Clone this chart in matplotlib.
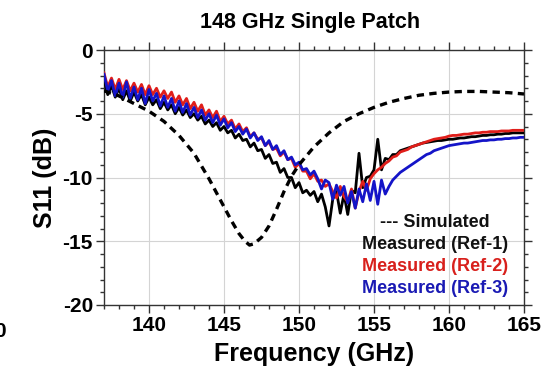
import numpy as np
import matplotlib
matplotlib.use("Agg")
import matplotlib.pyplot as plt
from matplotlib.ticker import MultipleLocator

plt.rcParams['font.family'] = ['Liberation Sans', 'DejaVu Sans']
plt.rcParams['font.weight'] = 'bold'
plt.rcParams['axes.unicode_minus'] = False

# Measurement sweep: 137 to 165 GHz in 0.25 GHz steps
f_start, f_stop, f_step = 137.0, 165.0, 0.25
freq_meas = np.arange(f_start, f_stop + f_step / 2, f_step)

s11_ref1 = [
    -2.3, -3.5, -2.8, -3.7,  -3.0, -3.9, -3.2, -4.0,  -3.3, -4.0, -3.5, -4.3,
    -3.7, -4.3, -3.9, -4.6,  -4.1, -4.7, -4.3, -5.0,  -4.5, -5.1, -4.7, -5.3,
    -5.0, -5.5, -5.2, -5.8,  -5.5, -6.0, -5.7, -6.3,  -6.0, -6.5, -6.3, -6.9,
    -6.6, -7.1, -7.0, -7.6,  -7.3, -7.9, -7.8, -8.5,  -8.2, -8.9, -8.8, -9.6,
    -9.3, -10.0, -10.0, -10.8,  -10.4, -11.2, -11.0, -11.4,  -11.1, -11.9, -11.3, -12.3,
    -13.8, -11.7, -11.1, -12.8,  -11.3, -12.9, -11.0, -11.2,  -8.1, -10.8, -10.0, -9.9,
    -9.4, -7.0, -9.4, -8.5,  -8.6, -8.2, -8.2, -7.9,  -7.8, -7.7, -7.6, -7.5,
    -7.4, -7.3, -7.25, -7.2,  -7.15, -7.1, -7.1, -7.05,  -7.0, -7.0, -6.95, -6.9,
    -6.9, -6.85, -6.8, -6.8,  -6.75, -6.7, -6.7, -6.65,  -6.65, -6.6, -6.6, -6.55,
    -6.55, -6.5, -6.5, -6.5,  -6.5,
]

s11_ref2 = [
    -1.8, -2.9, -2.2, -3.1,  -2.3, -3.1, -2.4, -3.2,  -2.6, -3.3, -2.7, -3.5,
    -2.8, -3.5, -3.0, -3.7,  -3.2, -3.8, -3.3, -4.1,  -3.6, -4.3, -3.8, -4.6,
    -4.1, -4.8, -4.3, -5.1,  -4.7, -5.3, -4.8, -5.6,  -5.2, -5.8, -5.5, -6.2,
    -5.8, -6.4, -6.1, -6.8,  -6.5, -7.0, -6.9, -7.5,  -7.2, -7.8, -7.7, -8.3,
    -8.0, -8.6, -8.5, -9.2,  -8.9, -9.5, -9.5, -10.1,  -9.7, -10.3, -10.2, -10.7,
    -10.5, -11.1, -11.6, -10.7,  -11.5, -11.9, -10.9, -12.4,  -11.1, -10.3, -11.0, -10.1,
    -9.7, -9.4, -9.2, -8.9,  -8.7, -8.4, -8.3, -8.0,  -7.9, -7.8, -7.6, -7.5,
    -7.4, -7.3, -7.2, -7.1,  -7.0, -6.95, -6.9, -6.85,  -6.75, -6.7, -6.7, -6.65,
    -6.6, -6.6, -6.55, -6.5,  -6.5, -6.45, -6.45, -6.4,  -6.4, -6.4, -6.35, -6.35,
    -6.35, -6.3, -6.3, -6.3,  -6.3,
]

s11_ref3 = [
    -1.9, -3.2, -2.4, -3.6,  -2.6, -3.7, -2.5, -3.8,  -2.9, -3.9, -3.0, -4.2,
    -3.1, -4.0, -3.4, -4.4,  -3.6, -4.5, -3.8, -4.8,  -4.0, -4.9, -4.2, -5.1,
    -4.5, -5.3, -4.7, -5.5,  -5.0, -5.7, -5.1, -5.9,  -5.4, -6.1, -5.7, -6.4,
    -6.0, -6.6, -6.2, -6.9,  -6.5, -7.1, -6.8, -7.5,  -7.1, -7.8, -7.5, -8.2,
    -7.9, -8.6, -8.4, -9.0,  -8.8, -9.4, -9.3, -9.8,  -9.5, -10.1, -10.9, -10.2,
    -10.4, -11.7, -10.6, -11.4,  -10.7, -12.0, -11.1, -12.4,  -10.9, -11.9, -10.5, -11.8,
    -10.3, -12.1, -10.2, -11.3,  -10.7, -10.2, -9.9, -9.6,  -9.4, -9.2, -9.0, -8.8,
    -8.6, -8.4, -8.2, -8.1,  -7.9, -7.8, -7.7, -7.6,  -7.5, -7.45, -7.4, -7.35,
    -7.3, -7.3, -7.25, -7.2,  -7.15, -7.1, -7.1, -7.05,  -7.05, -7.0, -7.0, -6.95,
    -6.95, -6.9, -6.9, -6.85,  -6.85,
]

# Simulated response
freq_sim = [137.0, 138.0, 139.0, 140.0, 141.0, 142.0, 143.0, 144.0, 145.0,
            145.5, 146.0, 146.4, 146.7, 147.0, 147.5, 148.0, 148.5, 149.0,
            149.5, 150.0, 151.0, 152.0, 153.0, 154.0, 155.0, 156.0, 157.0,
            158.0, 159.0, 160.0, 161.0, 162.0, 163.0, 164.0, 165.0]
s11_sim = [-3.2, -3.6, -4.2, -4.8, -5.6, -6.7, -8.1, -10.1, -12.3,
           -13.4, -14.4, -15.0, -15.3, -15.2, -14.7, -13.8, -12.5, -11.1,
           -9.9, -9.0, -7.6, -6.5, -5.6, -5.0, -4.5, -4.1, -3.8,
           -3.55, -3.4, -3.3, -3.25, -3.25, -3.3, -3.35, -3.45]

x_ticks = [140, 145, 150, 155, 160, 165]
y_ticks = [0, -5, -10, -15, -20]

legend_lines = ["--- Simulated", "Measured (Ref-1)", "Measured (Ref-2)", "Measured (Ref-3)"]
legend_colors = ["#111111", "#111111", "#d8201c", "#1a1ab4"]

W, H = 547, 378
fig = plt.figure(figsize=(W / 100, H / 100), dpi=100)
ax = fig.add_axes([104 / W, 1 - 305 / H, 420 / W, 255 / H])

ax.plot(freq_meas, s11_ref1, color="#000000", lw=2.0, zorder=3)
ax.plot(freq_meas, s11_ref2, color="#e01e1a", lw=2.0, zorder=4)
ax.plot(freq_meas, s11_ref3, color="#1414c8", lw=2.0, zorder=5)
ax.plot(freq_sim, s11_sim, color="#000000", lw=2.4, dashes=(2.2, 1.6), zorder=6)

ax.set_xlim(137, 165)
ax.set_ylim(-20, 0)
ax.set_xticks(x_ticks)
ax.set_yticks(y_ticks)
ax.xaxis.set_minor_locator(MultipleLocator(1))
ax.yaxis.set_minor_locator(MultipleLocator(1))
ax.tick_params(which='both', direction='out', top=True, right=True,
               labeltop=False, labelright=False, width=1.0, color='#333333')
ax.tick_params(which='major', length=6, labelsize=15, pad=2)
ax.tick_params(which='minor', length=3)
for lbl in ax.get_xticklabels() + ax.get_yticklabels():
    lbl.set_fontweight('bold')
ax.grid(True, which='major', color='#d4d4d4', lw=0.8)
ax.set_axisbelow(True)
for sp in ax.spines.values():
    sp.set_color('#333333')
    sp.set_linewidth(1.0)

ax.set_xlabel("Frequency (GHz)", fontsize=18, fontweight='bold', labelpad=5)
ax.set_ylabel("S11 (dB)", fontsize=18, fontweight='bold', labelpad=4)
fig.text(310 / W, 1 - 28 / H, "148 GHz Single Patch", fontsize=15.5,
         fontweight='bold', ha='center', va='baseline')

for i, (txt, col) in enumerate(zip(legend_lines, legend_colors)):
    fig.text(435 / W, 1 - (227 + 22 * i) / H, txt, fontsize=13, fontweight='bold',
             color=col, ha='center', va='baseline')

# Edge of a neighbouring panel's tick label
fig.text(0 / W, 1 - 337 / H, "0", fontsize=15, fontweight='bold',
         ha='center', va='baseline')

fig.savefig("out.png", dpi=100)
